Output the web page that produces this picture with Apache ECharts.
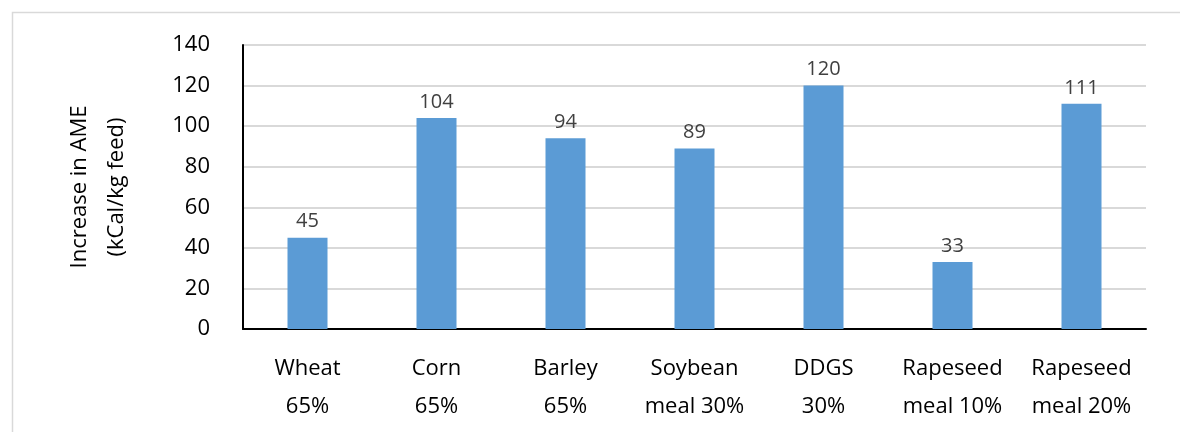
<!DOCTYPE html>
<html>
<head>
<meta charset="utf-8">
<script src="https://cdn.jsdelivr.net/npm/echarts@6/dist/echarts.min.js"></script>
<style>
  html, body { margin: 0; padding: 0; background: #ffffff; }
  #chart { width: 1180px; height: 432px; }
</style>
</head>
<body>
<div id="chart"></div>
<script>
// Feed ingredients and their inclusion rates
const categories = [
  'Wheat\n65%', 'Corn\n65%', 'Barley\n65%', 'Soybean\nmeal 30%',
  'DDGS\n30%', 'Rapeseed\nmeal 10%', 'Rapeseed\nmeal 20%'
];
// Increase in apparent metabolisable energy, kCal/kg feed
const ameIncrease = [45, 104, 94, 89, 120, 33, 111];
const yTicks = { min: 0, max: 140, interval: 20 };

const FONT = '"Open Sans", "Noto Sans", sans-serif';

const chart = echarts.init(document.getElementById('chart'), null, { renderer: 'canvas' });
chart.setOption({
  animation: false,
  backgroundColor: '#ffffff',
  graphic: [{
    type: 'rect',
    left: 10, top: 10,
    shape: { width: 1300, height: 600 },
    style: { fill: 'none', stroke: '#d9d9d9', lineWidth: 1.5 },
    silent: true
  }],
  grid: { left: 243, right: 34, top: 45, bottom: 103 },
  xAxis: {
    type: 'category',
    data: categories,
    axisLine: { lineStyle: { color: '#000000', width: 2 } },
    axisTick: { show: false },
    axisLabel: {
      color: '#000000', fontFamily: FONT, fontSize: 22,
      lineHeight: 38, margin: 21, interval: 0
    }
  },
  yAxis: {
    type: 'value',
    min: yTicks.min, max: yTicks.max, interval: yTicks.interval,
    name: 'Increase in AME\n(kCal/kg feed)',
    nameLocation: 'middle',
    nameRotate: 90,
    nameGap: 108,
    nameTextStyle: { color: '#000000', fontFamily: FONT, fontSize: 22, lineHeight: 37 },
    axisLine: { show: true, lineStyle: { color: '#000000', width: 2 } },
    axisTick: { show: false },
    axisLabel: { color: '#000000', fontFamily: FONT, fontSize: 22, margin: 33 },
    splitLine: { lineStyle: { color: '#d9d9d9', width: 2 } }
  },
  series: [{
    type: 'bar',
    data: ameIncrease,
    barWidth: 40,
    itemStyle: { color: '#5b9bd5' },
    label: {
      show: true, position: 'top', distance: 6,
      color: '#404040', fontFamily: FONT, fontSize: 20
    }
  }]
});
</script>
</body>
</html>
